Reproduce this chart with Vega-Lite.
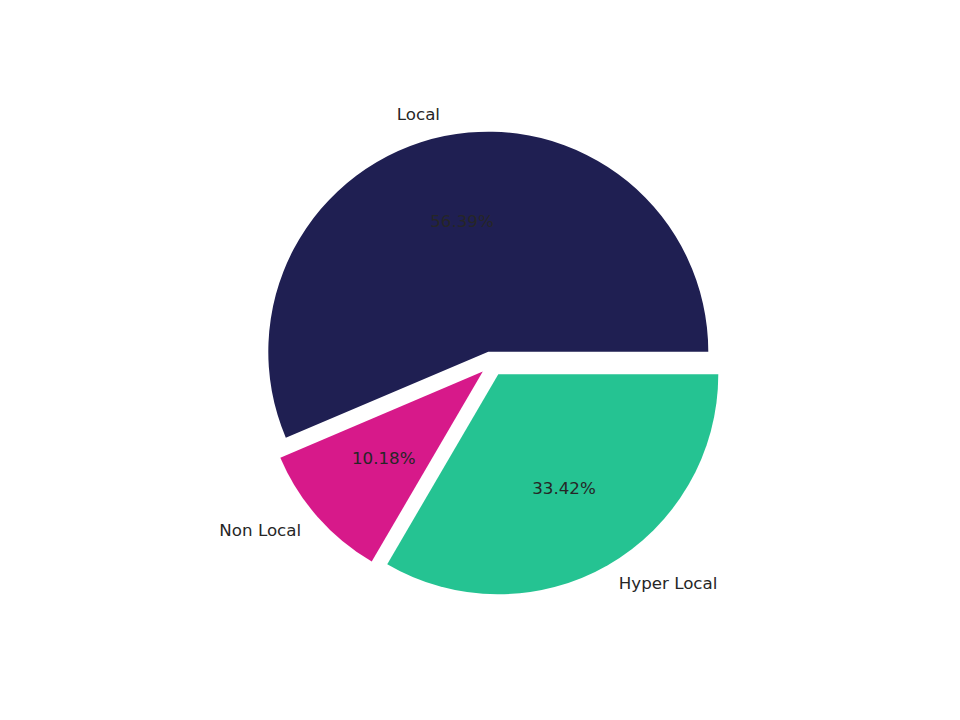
{
  "$schema": "https://vega.github.io/schema/vega-lite/v6.json",
  "width": 960,
  "height": 720,
  "autosize": {"type": "fit", "contains": "padding"},
  "padding": 0,
  "background": "white",
  "data": {
    "values": [
      {"category": "Hyper Local", "share": 0.3342, "rank": 1},
      {"category": "Non Local", "share": 0.1018, "rank": 2},
      {"category": "Local", "share": 0.5639, "rank": 3}
    ]
  },
  "encoding": {
    "theta": {
      "field": "share",
      "type": "quantitative",
      "stack": true,
      "scale": {"range": [1.5708, 7.854]}
    },
    "order": {"field": "rank", "type": "quantitative"}
  },
  "layer": [
    {
      "mark": {"type": "arc", "outerRadius": 220, "xOffset": 8.3, "yOffset": -8.3},
      "encoding": {
        "color": {
          "field": "category",
          "type": "nominal",
          "scale": {"domain": ["Local", "Non Local", "Hyper Local"], "range": ["#1f1f52", "#d7198a", "#25c392"]},
          "legend": null
        },
        "opacity": {"condition": {"test": "datum.category === 'Local'", "value": 1}, "value": 0}
      }
    },
    {
      "mark": {"type": "arc", "outerRadius": 220, "xOffset": 2.8, "yOffset": 11.6},
      "encoding": {
        "color": {"field": "category", "type": "nominal", "legend": null},
        "opacity": {"condition": {"test": "datum.category === 'Non Local'", "value": 1}, "value": 0}
      }
    },
    {
      "mark": {"type": "arc", "outerRadius": 220, "xOffset": 18.3, "yOffset": 14.3},
      "encoding": {
        "color": {"field": "category", "type": "nominal", "legend": null},
        "opacity": {"condition": {"test": "datum.category === 'Hyper Local'", "value": 1}, "value": 0}
      }
    },
    {
      "mark": {"type": "text", "radius": 242, "xOffset": 8.3, "yOffset": -8.3, "align": "right", "baseline": "middle", "font": "DejaVu Sans", "fontSize": 16.7, "color": "#262626"},
      "encoding": {
        "text": {"condition": {"test": "datum.category === 'Local'", "field": "category", "type": "nominal"}, "value": ""}
      }
    },
    {
      "mark": {"type": "text", "radius": 242, "xOffset": 2.8, "yOffset": 11.6, "align": "right", "baseline": "middle", "font": "DejaVu Sans", "fontSize": 16.7, "color": "#262626"},
      "encoding": {
        "text": {"condition": {"test": "datum.category === 'Non Local'", "field": "category", "type": "nominal"}, "value": ""}
      }
    },
    {
      "mark": {"type": "text", "radius": 242, "xOffset": 18.3, "yOffset": 14.3, "align": "left", "baseline": "middle", "font": "DejaVu Sans", "fontSize": 16.7, "color": "#262626"},
      "encoding": {
        "text": {"condition": {"test": "datum.category === 'Hyper Local'", "field": "category", "type": "nominal"}, "value": ""}
      }
    },
    {
      "mark": {"type": "text", "radius": 132, "xOffset": 8.3, "yOffset": -8.3, "align": "center", "baseline": "middle", "font": "DejaVu Sans", "fontSize": 16.7, "color": "#262626"},
      "encoding": {
        "text": {"condition": {"test": "datum.category === 'Local'", "field": "share", "type": "quantitative", "format": ".2%"}, "value": ""}
      }
    },
    {
      "mark": {"type": "text", "radius": 132, "xOffset": 2.8, "yOffset": 11.6, "align": "center", "baseline": "middle", "font": "DejaVu Sans", "fontSize": 16.7, "color": "#262626"},
      "encoding": {
        "text": {"condition": {"test": "datum.category === 'Non Local'", "field": "share", "type": "quantitative", "format": ".2%"}, "value": ""}
      }
    },
    {
      "mark": {"type": "text", "radius": 132, "xOffset": 18.3, "yOffset": 14.3, "align": "center", "baseline": "middle", "font": "DejaVu Sans", "fontSize": 16.7, "color": "#262626"},
      "encoding": {
        "text": {"condition": {"test": "datum.category === 'Hyper Local'", "field": "share", "type": "quantitative", "format": ".2%"}, "value": ""}
      }
    }
  ]
}
